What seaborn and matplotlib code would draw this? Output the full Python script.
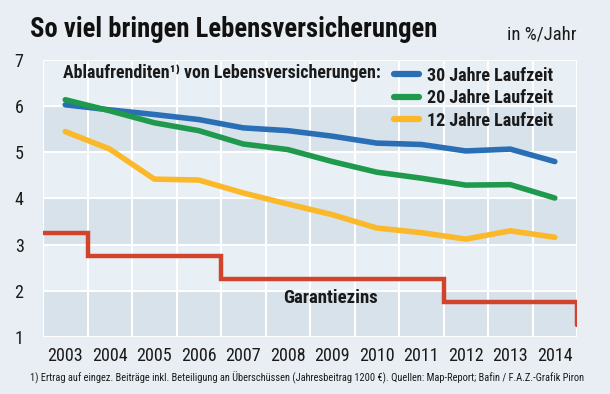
import pandas as pd
import seaborn as sns
import matplotlib.pyplot as plt
from matplotlib.lines import Line2D

years = list(range(2003, 2015))
laufzeit_30 = [6.03, 5.92, 5.82, 5.71, 5.53, 5.47, 5.35, 5.20, 5.17, 5.03, 5.07, 4.80]
laufzeit_20 = [6.14, 5.90, 5.64, 5.47, 5.18, 5.06, 4.80, 4.57, 4.44, 4.29, 4.30, 4.01]
laufzeit_12 = [5.45, 5.07, 4.42, 4.40, 4.12, 3.88, 3.65, 3.36, 3.26, 3.12, 3.30, 3.16]
series_labels = ["30 Jahre Laufzeit", "20 Jahre Laufzeit", "12 Jahre Laufzeit"]
series_colors = ["#2a6fb6", "#1f9a4d", "#fbb829"]

# Garantiezins: step changes at the year boundaries
garantie_x = [2002.5, 2003.5, 2006.5, 2011.5, 2014.5]
garantie_y = [3.25, 2.75, 2.25, 1.75, 1.25]

bg = "#e8eef3"
band = "#d7e2eb"
font = ["Roboto Condensed", "DejaVu Sans"]

sns.set_style("white")
plt.rcParams["font.family"] = font

df = pd.DataFrame({
    "Jahr": years * 3,
    "Rendite": laufzeit_30 + laufzeit_20 + laufzeit_12,
    "Serie": [s for s in series_labels for _ in years],
})

fig = plt.figure(figsize=(6.1, 3.94), dpi=100, facecolor=bg)
ax = fig.add_axes([0.0705, 0.1447, 0.8755, 0.703])
ax.set_facecolor("#e9f0f5")

for lo in (1, 3, 5):
    ax.axhspan(lo, lo + 1, color=band, zorder=0, lw=0)

sns.lineplot(data=df, x="Jahr", y="Rendite", hue="Serie", palette=series_colors,
             hue_order=series_labels, linewidth=4, ax=ax, legend=False, zorder=3)
ax.plot(garantie_x, garantie_y, drawstyle="steps-post", color="#d2432b",
        linewidth=3.2, zorder=3, solid_joinstyle="miter")

ax.set_xlim(2002.5, 2014.5)
ax.set_ylim(1, 7)
ax.set_xticks(years)
ax.set_xticks([y + 0.5 for y in [2002] + years], minor=True)
ax.set_yticks(range(1, 8))
ax.grid(which="minor", axis="x", color="white", linewidth=1.5, zorder=1)
ax.grid(which="major", axis="y", color="white", linewidth=1.5, zorder=1)
ax.set_axisbelow(True)
for sp in ax.spines.values():
    sp.set_visible(False)
ax.tick_params(which="both", length=0, labelsize=13, colors="#1a1a1a")
ax.tick_params(axis="x", pad=7)
ax.tick_params(axis="y", pad=14)
ax.set_xlabel("")
ax.set_ylabel("")

ax.text(2008.95, 1.85, "Garantiezins", fontsize=13.5, fontweight="bold",
        ha="center", va="center", color="#1a1a1a")
ax.text(2002.95, 6.72, "Ablaufrenditen\u00b9\u207e von Lebensversicherungen:",
        fontsize=12.9, fontweight="bold", ha="left", va="center", color="#1a1a1a",
        family=font)

handles = [Line2D([0], [0], color=c, lw=4.5, solid_capstyle="round") for c in series_colors]
leg = ax.legend(handles, series_labels, loc="upper right", bbox_to_anchor=(0.985, 1.035),
                frameon=False, handlelength=1.35, handletextpad=0.45, labelspacing=0.25,
                prop={"weight": "bold", "size": 13, "family": font})
for t in leg.get_texts():
    t.set_color("#1a1a1a")

fig.text(0.049, 0.925, "So viel bringen Lebensversicherungen", fontsize=19.2,
         fontweight="bold", ha="left", va="center", color="#111111")
fig.text(0.945, 0.912, "in %/Jahr", fontsize=13.5, ha="right", va="center", color="#1a1a1a")
fig.text(0.049, 0.04, "1) Ertrag auf eingez. Beiträge inkl. Beteiligung an Überschüssen "
         "(Jahresbeitrag 1200 €). Quellen: Map-Report; Bafin / F.A.Z.-Grafik Piron",
         fontsize=7.5, ha="left", va="center", color="#1a1a1a")

fig.savefig("out.png", dpi=100, facecolor=bg)
